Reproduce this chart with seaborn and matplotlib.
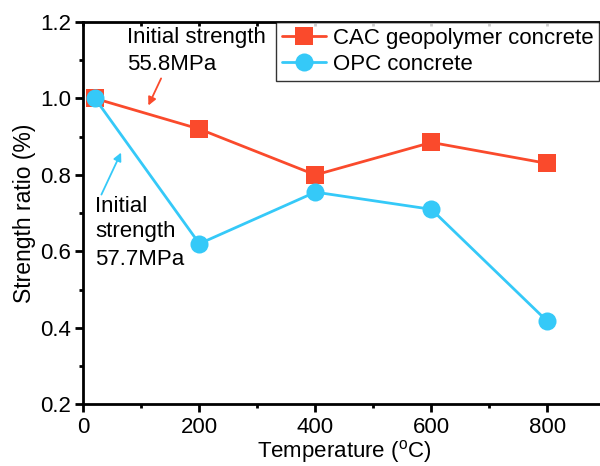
import matplotlib
matplotlib.use("Agg")
import matplotlib.pyplot as plt
import seaborn as sns
import pandas as pd
from matplotlib.ticker import MultipleLocator

temperature = [20, 200, 400, 600, 800]
cac_ratio = [1.0, 0.92, 0.80, 0.885, 0.83]
opc_ratio = [1.0, 0.62, 0.755, 0.71, 0.417]
series_names = ["CAC geopolymer concrete", "OPC concrete"]
xticks = [0, 200, 400, 600, 800]
yticks = [0.2, 0.4, 0.6, 0.8, 1.0, 1.2]

sns.set_theme(style="ticks")
plt.rcParams['font.family'] = ['Liberation Sans', 'DejaVu Sans']
plt.rcParams['mathtext.fontset'] = 'custom'
plt.rcParams['mathtext.rm'] = 'Liberation Sans'
plt.rcParams['text.color'] = 'black'
plt.rcParams['axes.labelcolor'] = 'black'
plt.rcParams['axes.edgecolor'] = 'black'

df = pd.DataFrame({
    "Temperature": temperature * 2,
    "Ratio": cac_ratio + opc_ratio,
    "Series": [series_names[0]] * len(temperature) + [series_names[1]] * len(temperature),
})

red = "#FA4A2C"
blue = "#35C9F8"

fig = plt.figure(figsize=(6.0, 4.66), dpi=100)
ax = fig.add_axes([0.139, 0.1324, 0.87, 0.8204])

sns.lineplot(data=df, x="Temperature", y="Ratio", hue="Series", style="Series",
             markers={series_names[0]: "s", series_names[1]: "o"}, dashes=False,
             palette={series_names[0]: red, series_names[1]: blue},
             markersize=13, markeredgewidth=0, linewidth=2, ax=ax, legend=True)
for ln in ax.lines:
    if ln.get_color() == blue:
        ln.set_zorder(3)

ax.set_xlim(0, 900)
ax.set_ylim(0.2, 1.2)
ax.set_xticks(xticks)
ax.set_yticks(yticks)
ax.xaxis.set_minor_locator(MultipleLocator(100))
ax.yaxis.set_minor_locator(MultipleLocator(0.1))
ax.tick_params(axis='both', which='major', direction='out', length=6, width=2,
               labelsize=16, colors='black', labelcolor='black', pad=3)
ax.tick_params(axis='both', which='minor', direction='out', length=3, width=2, colors='black')
ax.tick_params(axis='x', which='both', top=True, labeltop=False)
ax.set_yticklabels([f"{v:.1f}" for v in yticks])

for s in ['left', 'bottom', 'top']:
    ax.spines[s].set_linewidth(2)
    ax.spines[s].set_color('black')
ax.spines['right'].set_visible(False)

for t in ax.xaxis.get_major_ticks() + ax.xaxis.get_minor_ticks():
    t.tick2line.set_marker(3)
    t.tick2line.set_markersize(3)

ax.set_xlabel("Temperature ($^\\mathrm{o}$C)", fontsize=16, labelpad=0)
ax.set_ylabel("Strength ratio (%)", fontsize=16.5, labelpad=3)

leg = ax.legend(loc='upper right', bbox_to_anchor=(599/600, 1 - 22/466),
                bbox_transform=fig.transFigure, borderaxespad=0,
                fontsize=16, frameon=True, fancybox=False, handlelength=2.0,
                handletextpad=0.3, labelspacing=0.25, borderpad=0.25)
leg.get_frame().set_edgecolor('black')
leg.get_frame().set_linewidth(1)

red_lines = ["Initial strength", "55.8MPa"]
red_base = [1.145, 1.074]
for txt, yb in zip(red_lines, red_base):
    ax.text(75, yb, txt, fontsize=16, va='baseline', ha='left')
ax.annotate("", xy=(110, 0.975), xytext=(136, 1.059),
            arrowprops=dict(arrowstyle='-|>', color=red, lw=1.3, mutation_scale=12))

blue_lines = ["Initial", "strength", "57.7MPa"]
blue_base = [0.703, 0.638, 0.564]
for txt, yb in zip(blue_lines, blue_base):
    ax.text(20, yb, txt, fontsize=16, va='baseline', ha='left')
ax.annotate("", xy=(67, 0.865), xytext=(29, 0.742),
            arrowprops=dict(arrowstyle='-|>', color=blue, lw=1.3, mutation_scale=12))

fig.savefig("out.png", dpi=100)
